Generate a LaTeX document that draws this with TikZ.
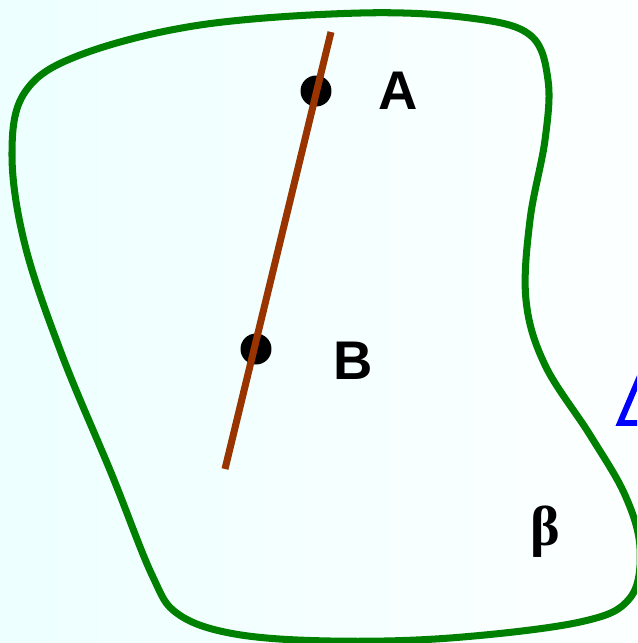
\documentclass[tikz,border=0pt]{standalone}
\usepackage{fontspec}
\setmainfont{Liberation Sans}
\newfontfamily\serifbeta{Liberation Serif}
\usepackage{tikz}
\tikzset{
  dot/.style={circle, fill=black, inner sep=0pt, minimum size=0.62cm},
  ptlabel/.style={font=\fontsize{31}{34}\selectfont\bfseries},
}
\begin{document}
\begin{tikzpicture}[x=0.02cm, y=-0.02cm, thick]
        % Background
        \useasboundingbox (0,0) rectangle (637,643);
        \clip (0,0) rectangle (637,643);
        \shade[left color=cyan!7, right color=cyan!1]
            (0,0) rectangle (637,643);

        % Region boundary
        \draw[green!50!black, line width=4pt]
            plot[smooth cycle, tension=0.6] coordinates {
              (360,13) (470,18) (530,35) (548,80) (545,140) (530,220) (526,300)
              (545,365) (590,435) (625,495) (640,548) (630,598) (580,622)
              (450,638) (330,641) (235,634) (178,614) (152,575) (112,475)
              (62,355) (25,245) (12,155) (25,92) (80,55) (200,25)};

        % Nodes
        \node[dot] (A) at (316,91) {};
        \node[dot] (B) at (256,349) {};
        \node[ptlabel] (labA) at (398,91) {A};
        \node[ptlabel] (labB) at (353,361) {B};
        \node[font=\fontsize{32}{34}\selectfont\serifbeta\bfseries] (beta) at (545,532) {β};

        % Line through A and B
        \coordinate (top) at (331,32);
        \coordinate (bot) at (225,469);
        \draw[color={rgb,255:red,153;green,51;blue,0}, line width=4pt] (top) -- (bot);

        % Blue shape at the edge
        \coordinate (t1) at (640,376);
        \coordinate (t2) at (620,423);
        \coordinate (t3) at (640,423);
        \draw[blue, line width=3.4pt, line join=miter] (t1) -- (t2) -- (t3);
\end{tikzpicture}
\end{document}
